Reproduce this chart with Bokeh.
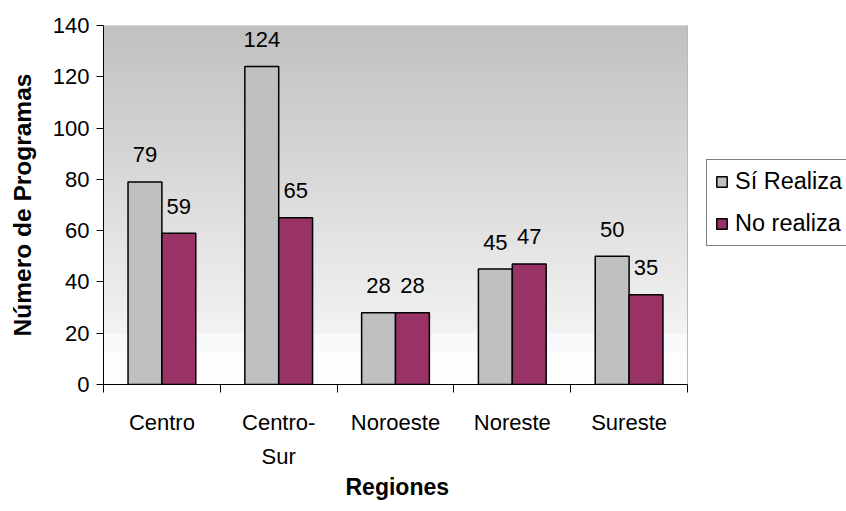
import numpy as np
from bokeh.plotting import figure
from bokeh.models import (Range1d, FixedTicker, ColumnDataSource, Legend, LegendItem,
                          Title, LinearAxis)
from bokeh.core.properties import value
from bokeh.embed import file_html
from bokeh.resources import INLINE

# ---- data ----
regions = ["Centro", "Centro-\nSur", "Noroeste", "Noreste", "Sureste"]
si_realiza = [79, 124, 28, 45, 50]
no_realiza = [59, 65, 28, 47, 35]
y_ticks = [0, 20, 40, 60, 80, 100, 120, 140]
series_names = ["Sí Realiza", "No realiza"]
x_title = "Regiones"
y_title = "Número de Programas"

FONT = "Liberation Sans"
GRAY = "#c0c0c0"
PLUM = "#993366"

W, H = 846, 511
LEFT, TOP, BOTTOM = 103, 25, 127
PLOT_W = 584                      # width of the chart area in px
n = len(regions)
x_end = n * (W - LEFT) / PLOT_W   # frame extends to the right edge (legend lives there)

p = figure(width=W, height=H, x_range=Range1d(0, x_end),
           y_range=Range1d(0, 140), output_backend="svg", toolbar_location=None,
           min_border_left=LEFT, min_border_right=0, min_border_top=TOP,
           min_border_bottom=BOTTOM)
p.background_fill_color = "white"
p.border_fill_color = "white"
p.outline_line_color = None
p.grid.visible = False

# gradient background of the chart area (decoration)
edges = np.linspace(0, 140, 141)
def shade(v):
    if v >= 20.5:
        t = (v - 20.5) / (140 - 20.5)
        g = int(round(242 - t * (242 - 192)))
        return "#%02x%02x%02x" % (g, g, g)
    elif v >= 13:
        return "#f8f9fb"
    else:
        return "#fdfdfe"
cols = [shade((a + b) / 2) for a, b in zip(edges[:-1], edges[1:])]
tops = np.minimum(edges[1:] + 0.6, 140)
p.quad(left=0, right=n, bottom=edges[:-1], top=tops,
       fill_color=cols, line_color=None)
# light border of chart area
p.quad(left=0, right=n, bottom=0, top=140, fill_color=None,
       line_color="#b8b8b8", line_width=1)

idx = np.arange(n) + 0.5
bw = 0.29
src = ColumnDataSource(dict(xs=idx - bw / 2, xn=idx + bw / 2,
                            si=si_realiza, no=no_realiza,
                            si_t=[str(v) for v in si_realiza],
                            no_t=[str(v) for v in no_realiza]))
r1 = p.vbar(x="xs", top="si", width=bw, source=src, fill_color=GRAY,
            line_color="black", line_width=1.5)
r2 = p.vbar(x="xn", top="no", width=bw, source=src, fill_color=PLUM,
            line_color="black", line_width=1.5)

for xcol, ycol, tcol in [("xs", "si", "si_t"), ("xn", "no", "no_t")]:
    p.text(x=xcol, y=ycol, text=tcol, source=src, text_align="center",
           text_baseline="middle", y_offset=-27, text_font=value(FONT),
           text_font_size="22px", text_color="black")

# y axis
ya = p.yaxis[0]
ya.ticker = FixedTicker(ticks=y_ticks)
ya.minor_tick_line_color = None
ya.major_tick_in = 0
ya.major_tick_out = 7
ya.major_label_standoff = 7
ya.major_label_text_font = FONT
ya.major_label_text_font_size = "22px"
ya.major_label_text_color = "black"
ya.axis_line_color = "black"
ya.major_tick_line_color = "black"
ya.axis_label = y_title
ya.axis_label_text_font = FONT
ya.axis_label_text_font_size = "24.5px"
ya.axis_label_text_font_style = "bold"
ya.axis_label_text_color = "black"
ya.axis_label_standoff = 14

# x axis
xa = p.xaxis[0]
xa.bounds = (0, n)
xa.ticker = FixedTicker(ticks=list(idx), minor_ticks=list(range(n + 1)))
xa.major_label_overrides = {float(x): r for x, r in zip(idx, regions)}
xa.major_tick_line_color = None
xa.major_tick_in = 0
xa.major_tick_out = 0
xa.minor_tick_in = 0
xa.minor_tick_out = 8
xa.minor_tick_line_color = "black"
xa.axis_line_color = "black"
xa.major_label_standoff = 17
xa.major_label_text_font = FONT
xa.major_label_text_font_size = "22px"
xa.major_label_text_line_height = 1.37
xa.major_label_text_color = "black"

# invisible spacer between tick labels and the x title
spacer = LinearAxis(ticker=FixedTicker(ticks=[]), axis_line_color=None,
                    major_tick_line_color=None, minor_tick_line_color=None,
                    major_tick_in=0, major_tick_out=10, minor_tick_out=0)
p.add_layout(spacer, "below")

# x-axis title, centred under the chart area (not the whole frame)
xt = Title(text=x_title, align="left", offset=242, text_font=FONT,
           text_font_size="23px", text_font_style="bold", text_color="black",
           standoff=0)
p.add_layout(xt, "below")

legend = Legend(items=[LegendItem(label=series_names[0], renderers=[r1]),
                       LegendItem(label=series_names[1], renderers=[r2])],
                location=(PLOT_W + 19, 138), orientation="vertical")
legend.glyph_width = 13
legend.glyph_height = 13
legend.label_text_font = FONT
legend.label_text_font_size = "23.5px"
legend.label_text_color = "black"
legend.label_standoff = 7
legend.padding = 8
legend.spacing = 15
legend.margin = 0
legend.label_height = 25
legend.border_line_color = "black"
legend.border_line_width = 1
legend.background_fill_color = "white"
legend.background_fill_alpha = 1
p.add_layout(legend, "center")

open("out.html", "w").write(file_html(p, INLINE))
